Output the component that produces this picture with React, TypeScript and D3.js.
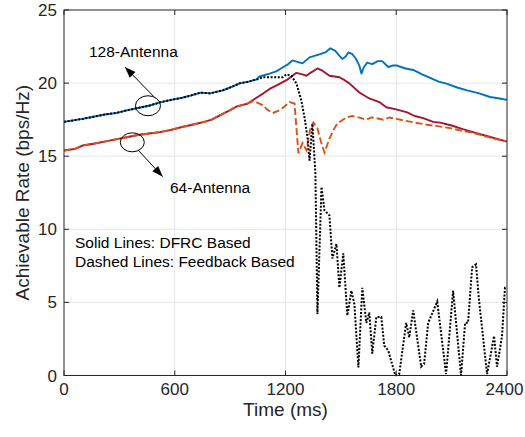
import * as d3 from "d3";

// [time (ms), rate (bps/Hz)]
const dfrc128: [number, number][] = [
  [0, 17.35], [50, 17.45], [100, 17.55], [160, 17.7], [220, 17.85], [280, 17.95],
  [340, 18.13], [400, 18.3], [460, 18.45], [520, 18.68], [580, 18.85], [640, 19.0],
  [690, 19.16], [740, 19.35], [790, 19.3], [860, 19.5], [910, 19.75], [951, 19.98],
  [1000, 20.1], [1043, 20.25], [1059, 20.45], [1114, 20.65], [1150, 20.8], [1184, 21.07],
  [1215, 21.3], [1238, 21.55], [1265, 21.45], [1292, 21.35], [1330, 21.76], [1384, 21.97],
  [1416, 22.1], [1443, 22.38], [1470, 22.2], [1490, 21.9], [1508, 21.65], [1525, 21.8],
  [1540, 22.1], [1560, 22.0], [1580, 21.7], [1600, 21.2], [1611, 20.65], [1625, 21.1],
  [1643, 21.4], [1670, 21.3], [1700, 21.5], [1724, 21.5], [1757, 21.1], [1780, 21.2],
  [1805, 21.2], [1850, 21.0], [1892, 20.9], [1940, 20.6], [1984, 20.35], [2030, 20.1],
  [2076, 19.95], [2130, 19.7], [2184, 19.5], [2250, 19.3], [2308, 19.05], [2360, 18.95],
  [2400, 18.85],
];

const dfrc64: [number, number][] = [
  [0, 15.39], [60, 15.5], [100, 15.73], [160, 15.85], [220, 16.0], [300, 16.2],
  [340, 16.3], [400, 16.45], [460, 16.55], [520, 16.65], [580, 16.8], [640, 17.0],
  [700, 17.17], [760, 17.35], [800, 17.5], [860, 17.9], [900, 18.15], [935, 18.4],
  [995, 18.6], [1043, 19.0], [1080, 19.3], [1114, 19.6], [1160, 19.9], [1205, 20.2],
  [1238, 20.5], [1259, 20.7], [1292, 20.6], [1314, 20.5], [1335, 20.7], [1373, 21.0],
  [1400, 20.85], [1438, 20.5], [1492, 20.4], [1520, 20.2], [1546, 19.98], [1600, 19.36],
  [1654, 18.95], [1708, 18.7], [1746, 18.35], [1800, 18.2], [1859, 18.0], [1900, 17.75],
  [1946, 17.6], [2000, 17.35], [2038, 17.3], [2100, 17.1], [2160, 16.85], [2216, 16.65],
  [2300, 16.35], [2400, 16.0],
];

const feedback64: [number, number][] = [
  [0, 15.39], [60, 15.5], [100, 15.73], [160, 15.85], [220, 16.0], [300, 16.2],
  [340, 16.3], [400, 16.45], [460, 16.55], [520, 16.65], [580, 16.8], [640, 17.0],
  [700, 17.17], [760, 17.35], [800, 17.5], [860, 17.9], [900, 18.15], [935, 18.4],
  [995, 18.6], [1022, 18.75], [1050, 18.65], [1076, 18.5], [1100, 18.2], [1130, 17.95],
  [1160, 18.1], [1184, 18.3], [1222, 18.7], [1249, 18.6], [1259, 16.96], [1270, 15.2],
  [1292, 15.9], [1314, 15.4], [1335, 16.96], [1351, 17.3], [1373, 16.9], [1392, 16.0],
  [1411, 15.25], [1438, 16.2], [1460, 16.8], [1481, 17.24], [1530, 17.65], [1560, 17.75],
  [1584, 17.7], [1610, 17.6], [1638, 17.5], [1665, 17.65], [1692, 17.6], [1730, 17.5],
  [1762, 17.65], [1800, 17.55], [1859, 17.4], [1900, 17.3], [1968, 17.15], [2054, 17.0],
  [2100, 16.9], [2150, 16.75], [2216, 16.6], [2300, 16.3], [2400, 16.0],
];

const feedback128: [number, number][] = [
  [0, 17.35], [50, 17.45], [100, 17.55], [160, 17.7], [220, 17.85], [280, 17.95],
  [340, 18.13], [400, 18.3], [460, 18.45], [520, 18.68], [580, 18.85], [640, 19.0],
  [690, 19.16], [740, 19.35], [790, 19.3], [860, 19.5], [910, 19.75], [951, 19.98],
  [1000, 20.1], [1043, 20.25], [1080, 20.4], [1130, 20.4], [1184, 20.4], [1205, 20.6],
  [1232, 20.5], [1259, 19.98], [1286, 18.8], [1303, 17.65], [1319, 16.3], [1330, 14.7],
  [1346, 17.2], [1362, 13.8], [1373, 4.2], [1395, 12.9], [1411, 11.3], [1438, 10.95],
  [1454, 8.0], [1476, 9.0], [1492, 6.0], [1513, 8.35], [1535, 4.1], [1557, 5.8],
  [1573, 4.9], [1595, 0.55], [1616, 6.0], [1638, 3.6], [1654, 4.3], [1670, 1.5],
  [1692, 4.0], [1719, 4.0], [1735, 2.05], [1757, 1.7], [1795, 0], [1816, 0.1],
  [1854, 3.6], [1870, 2.6], [1892, 4.45], [1935, 0.6], [1951, 0.8], [1973, 3.6],
  [2022, 5.05], [2070, 0.1], [2108, 5.8], [2151, 0], [2173, 3.6], [2189, 3.6],
  [2211, 7.4], [2232, 7.6], [2248, 5.2], [2292, 0.1], [2330, 2.7], [2346, 0.6],
  [2373, 2.7], [2389, 6.0], [2400, 6.0],
];

const xTicks = [0, 600, 1200, 1800, 2400];
const yTicks = [0, 5, 10, 15, 20, 25];
const notes = ["Solid Lines: DFRC Based", "Dashed Lines: Feedback Based"];

const width = 525;
const height = 437;
const font = "'Liberation Sans', Arial, Helvetica, sans-serif";
const axisColor = "#262626";

function arrowHead(x1: number, y1: number, x2: number, y2: number, len = 11, half = 4) {
  // triangle with its tip at (x2, y2)
  const a = Math.atan2(y2 - y1, x2 - x1);
  const bx = x2 - len * Math.cos(a), by = y2 - len * Math.sin(a);
  const px = -Math.sin(a) * half, py = Math.cos(a) * half;
  return `M${x2},${y2}L${bx + px},${by + py}L${bx - px},${by - py}Z`;
}

export default function App() {
  const x = d3.scaleLinear().domain([0, 2400]).range([64, 507]);
  const y = d3.scaleLinear().domain([0, 25]).range([375.5, 10]);
  const line = d3.line<[number, number]>().x(d => x(d[0])).y(d => y(d[1]));

  const [L, R] = x.range();
  const [B, T] = y.range();

  // annotation anchors in data units
  const e128 = { cx: x(455), cy: y(18.45) };
  const e64 = { cx: x(370), cy: y(15.95) };
  const a128 = { x1: e128.cx + 6, y1: e128.cy - 9, x2: x(330), y2: y(21.1) };
  const a64 = { x1: e64.cx + 6, y1: e64.cy + 8, x2: x(535), y2: y(13.6) };

  return (
    <svg width={width} height={height} style={{ position: "absolute", left: 0, top: 0, background: "#fff" }}
      fontFamily={font}>
      <rect x={0} y={0} width={width} height={height} fill="#fff" />
      {/* grid */}
      {xTicks.slice(1, -1).map(t => (
        <line key={"gx" + t} x1={x(t)} x2={x(t)} y1={T} y2={B} stroke="#e6e6e6" strokeWidth={1} />
      ))}
      {yTicks.slice(1, -1).map(t => (
        <line key={"gy" + t} x1={L} x2={R} y1={y(t)} y2={y(t)} stroke="#e6e6e6" strokeWidth={1} />
      ))}

      {/* series */}
      <path d={line(dfrc128) ?? ""} fill="none" stroke="#0072BD" strokeWidth={1.9} strokeLinejoin="round" />
      <path d={line(dfrc64) ?? ""} fill="none" stroke="#A2142F" strokeWidth={1.9} strokeLinejoin="round" />
      <path d={line(feedback64) ?? ""} fill="none" stroke="#D95319" strokeWidth={1.9} strokeDasharray="7,3" />
      <path d={line(feedback128) ?? ""} fill="none" stroke="#000" strokeWidth={2} strokeDasharray="2,1.6" />

      {/* box + ticks */}
      <rect x={L} y={T} width={R - L} height={B - T} fill="none" stroke={axisColor} strokeWidth={1} />
      {xTicks.map((t, i) => (
        <g key={"tx" + t}>
          <line x1={x(t)} x2={x(t)} y1={B} y2={B - 5} stroke={axisColor} />
          <line x1={x(t)} x2={x(t)} y1={T} y2={T + 5} stroke={axisColor} />
          <text x={x(t) - (i === xTicks.length - 1 ? 2.5 : 0)} y={395} textAnchor="middle" fontSize={17}
            fill={axisColor}>{t}</text>
        </g>
      ))}
      {yTicks.map(t => (
        <g key={"ty" + t}>
          <line x1={L} x2={L + 5} y1={y(t)} y2={y(t)} stroke={axisColor} />
          <line x1={R} x2={R - 5} y1={y(t)} y2={y(t)} stroke={axisColor} />
          <text x={57} y={y(t) + 6} textAnchor="end" fontSize={17} fill={axisColor}>{t}</text>
        </g>
      ))}
      <text x={(L + R) / 2} y={416} textAnchor="middle" fontSize={19} fill={axisColor}>Time (ms)</text>
      <text transform={`translate(29,${(T + B) / 2}) rotate(-90)`} textAnchor="middle" fontSize={19} fill={axisColor}>
        Achievable Rate (bps/Hz)
      </text>

      {/* annotations */}
      <ellipse cx={e128.cx} cy={e128.cy} rx={12.5} ry={10} fill="none" stroke="#000" strokeWidth={1} />
      <line x1={a128.x1} y1={a128.y1} x2={a128.x2} y2={a128.y2} stroke="#000" strokeWidth={1} />
      <path d={arrowHead(a128.x1, a128.y1, a128.x2, a128.y2)} fill="#000" />
      <text x={89} y={57} fontSize={15.5} fill="#000">128-Antenna</text>

      <ellipse cx={e64.cx} cy={e64.cy} rx={12} ry={9.5} fill="none" stroke="#000" strokeWidth={1} />
      <line x1={a64.x1} y1={a64.y1} x2={a64.x2} y2={a64.y2} stroke="#000" strokeWidth={1} />
      <path d={arrowHead(a64.x1, a64.y1, a64.x2, a64.y2)} fill="#000" />
      <text x={170} y={193} fontSize={15.5} fill="#000">64-Antenna</text>

      {notes.map((n, i) => (
        <text key={n} x={75} y={248 + i * 19} fontSize={15.5} fill="#000">{n}</text>
      ))}
    </svg>
  );
}
